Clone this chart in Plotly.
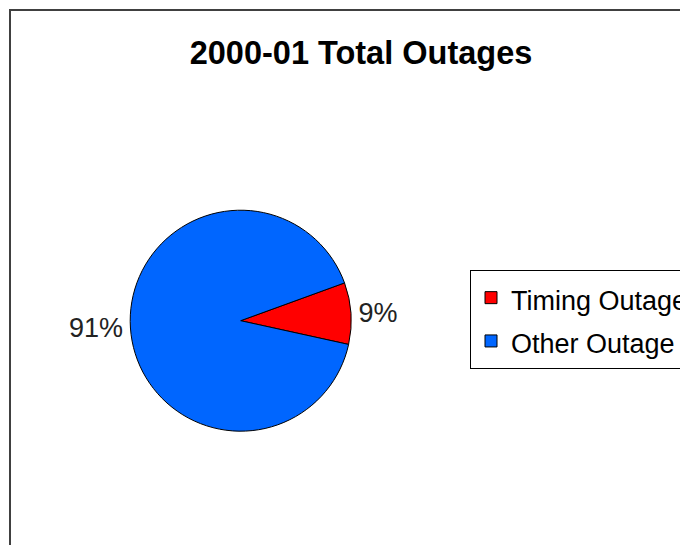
import plotly.graph_objects as go

labels = ["Timing Outage", "Other Outage"]
values = [9, 91]
colors = ["#FF0000", "#0066FF"]
title_text = "2000-01 Total Outages"

W, H = 688, 545
OFF = 8  # page body margin
cx, cy, r = 240.7 - OFF, 320.7 - OFF, 110.5

fig = go.Figure(go.Pie(
    labels=['<span style="font-size:27px">' + l + '</span>' for l in labels],
    values=values,
    marker=dict(colors=colors, line=dict(color="black", width=1)),
    sort=False,
    direction="clockwise",
    rotation=70,
    textinfo="percent",
    textposition="outside",
    outsidetextfont=dict(family="Liberation Sans", size=27, color="#222222"),
    domain=dict(x=[(cx - r) / W, (cx + r) / W],
                y=[(H - cy - r) / H, (H - cy + r) / H]),
    showlegend=True,
    hoverinfo="label+percent",
))

fig.update_layout(
    width=W, height=H,
    margin=dict(l=0, r=0, t=0, b=0, autoexpand=False),
    paper_bgcolor="white",
    plot_bgcolor="white",
    font=dict(family="Liberation Sans", color="black"),
    title=dict(text="<b>" + title_text + "</b>", x=(361 - OFF) / W, xanchor="center",
               y=1 - (52.5 - OFF) / H, yanchor="middle",
               font=dict(family="Liberation Sans", size=32.5, color="black")),
    legend=dict(x=(470 - OFF) / W, xanchor="left", y=1 - (270 - OFF) / H, yanchor="top",
                bordercolor="black", borderwidth=1, bgcolor="white",
                font=dict(family="Liberation Sans", size=31, color="black")),
    shapes=[dict(type="rect", xref="paper", yref="paper",
                 x0=(10 - OFF) / W, x1=1.05, y0=-0.05, y1=1 - (10 - OFF) / H,
                 line=dict(color="#404040", width=2), layer="below")],
)

fig.write_html("out.html")
